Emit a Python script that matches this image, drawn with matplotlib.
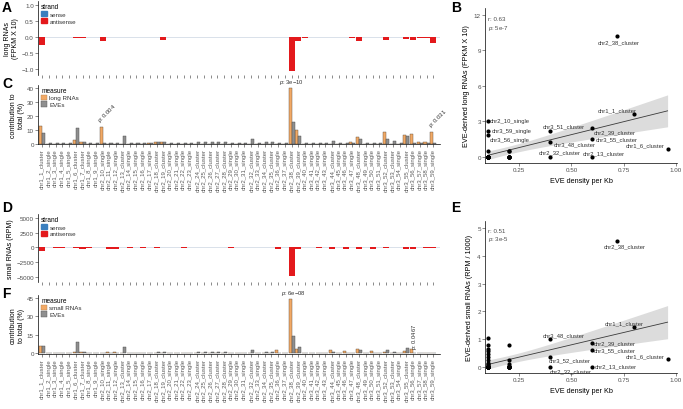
import numpy as np
import matplotlib.pyplot as plt
from matplotlib.patches import Patch

plt.rcParams["font.family"] = ["Liberation Sans", "DejaVu Sans"]
plt.rcParams["mathtext.fontset"] = "custom"
plt.rcParams["mathtext.rm"] = "Liberation Sans"
plt.rcParams["mathtext.it"] = "Liberation Sans:italic"

# ---- data -------------------------------------------------------------
categories = [
    "chr1_1_cluster", "chr1_2_single", "chr1_3_single", "chr1_4_single", "chr1_5_single",
    "chr1_6_cluster", "chr1_7_cluster", "chr1_8_single", "chr1_9_single", "chr2_10_single",
    "chr2_11_single", "chr2_12_single", "chr2_13_cluster", "chr2_14_single", "chr2_15_single",
    "chr2_16_single", "chr2_17_single", "chr2_18_cluster", "chr2_19_cluster", "chr2_20_single",
    "chr2_21_single", "chr2_22_single", "chr2_23_single", "chr2_24_cluster", "chr2_25_cluster",
    "chr2_26_cluster", "chr2_27_cluster", "chr2_28_cluster", "chr2_29_single", "chr2_30_single",
    "chr2_31_single", "chr2_32_cluster", "chr2_33_single", "chr2_34_cluster", "chr2_35_cluster",
    "chr2_36_single", "chr2_37_single", "chr2_38_cluster", "chr2_39_cluster", "chr2_40_single",
    "chr3_41_single", "chr3_42_single", "chr3_43_single", "chr3_44_cluster", "chr3_45_single",
    "chr3_46_single", "chr3_47_single", "chr3_48_cluster", "chr3_49_single", "chr3_50_single",
    "chr3_51_single", "chr3_52_cluster", "chr3_53_cluster", "chr3_54_single", "chr3_55_cluster",
    "chr3_56_single", "chr3_57_single", "chr3_58_single", "chr3_59_single",
]

# A: long RNAs (FPKM x 10) per strand
long_sense = [0.0] * len(categories)
long_antisense = [
    -0.25, 0, 0, 0, 0, -0.04, -0.03, 0, 0, -0.12,
    0, 0, 0, 0, 0, -0.01, 0, 0, -0.10, 0,
    -0.01, 0, 0, 0, 0, 0, 0, 0, 0, 0,
    0, 0, 0, 0, 0, 0, 0, -1.05, -0.13, -0.02,
    0, 0, -0.01, 0, 0, -0.015, -0.02, -0.12, 0, 0,
    0, -0.10, 0, 0, -0.06, -0.09, -0.04, -0.03, -0.19,
]

# D: small RNAs (RPM) per strand
small_sense = [0.0] * len(categories)
small_antisense = [
    -650, 0, -60, -60, 0, -150, -180, -100, 0, 0,
    -250, -250, 0, -100, 0, -80, 0, -80, 0, 0,
    0, -60, 0, 0, 0, 0, 0, 0, -50, 0,
    0, 0, 0, 0, 0, -220, 0, -4850, -230, 0,
    0, -50, 0, -250, 0, -200, 0, -250, 0, -200,
    0, -150, 0, 0, -200, -300, 0, -80, -80,
]

# C: contribution to total (%)
long_share = [
    13, 0, 0, 0, 0, 2.3, 1.5, 0, 0, 12,
    0, 0, 0, 0, 0, 0, 0.3, 1.2, 1.5, 0,
    0, 0, 0, 0, 0, 0, 0, 0, 0, 0,
    0, 0, 0, 0, 0, 0, 0, 40, 9.5, 0,
    0, 0, 0, 0, 0, 0, 1.0, 4.6, 0, 0,
    0, 8.7, 0, 0, 6.0, 7.3, 0.8, 1.0, 8.4,
]
eve_share_long = [
    7.7, 0.7, 0.7, 0.7, 0.7, 11.5, 1.5, 0.7, 0.7, 0.7,
    0.7, 0.7, 5.8, 0.7, 0.7, 0.7, 0.7, 1.5, 1.5, 0.7,
    0.7, 0.7, 0.7, 1.5, 1.5, 1.5, 1.5, 1.5, 0.7, 0.7,
    0.7, 3.6, 0.7, 1.5, 1.5, 0.7, 0.7, 16.0, 5.5, 0.7,
    0.7, 0.7, 0.7, 1.8, 0.7, 0.7, 0.7, 3.6, 0.7, 0.7,
    0.7, 3.6, 1.8, 0.7, 5.5, 0.7, 0.7, 0.7, 0.7,
]

# F: contribution to total (%)
small_share = [
    6.0, 0.3, 0.3, 0.3, 0.3, 1.2, 1.2, 0.5, 0.3, 0.4,
    1.5, 1.5, 0.3, 0.3, 0.3, 0.3, 0.3, 0.3, 0.3, 0.2,
    0.2, 0.2, 0.2, 0.2, 0.2, 0.2, 0.2, 0.2, 0.2, 0.2,
    0.2, 0.3, 0.2, 0.3, 0.3, 2.8, 0.2, 44.0, 3.5, 0.2,
    0.4, 0.4, 0.4, 2.8, 0.3, 2.2, 0.3, 3.2, 0.3, 2.0,
    0.3, 1.5, 0.3, 0.3, 2.0, 3.5, 0.3, 0.6, 0.5,
]
eve_share_small = [
    6.2, 0.6, 0.6, 0.6, 0.6, 9.0, 1.2, 0.6, 0.6, 0.6,
    0.6, 0.6, 4.9, 0.6, 0.6, 0.6, 0.6, 1.2, 1.2, 0.6,
    0.6, 0.6, 0.6, 1.2, 1.2, 1.2, 1.2, 1.2, 0.6, 0.6,
    0.6, 3.0, 0.6, 1.2, 1.2, 0.6, 0.6, 13.8, 4.9, 0.6,
    0.6, 0.6, 0.6, 1.5, 0.6, 0.6, 0.6, 3.0, 0.6, 0.6,
    0.6, 3.0, 1.5, 0.6, 4.7, 0.6, 0.6, 0.6, 0.6,
]

# B: EVE density vs long RNAs, labelled points first
b_names = ["chr2_38_cluster", "chr1_1_cluster", "chr1_6_cluster", "chr2_10_single",
           "chr3_59_single", "chr3_56_single", "chr3_51_cluster", "chr2_39_cluster",
           "chr3_55_cluster", "chr3_48_cluster", "chr2_32_cluster", "chr2_13_cluster"]
b_density = [0.72, 0.80, 0.96, 0.10, 0.10, 0.10, 0.40, 0.60, 0.60, 0.40, 0.40, 0.60,
             0.10, 0.10, 0.10, 0.10, 0.10, 0.10, 0.10, 0.10, 0.10, 0.10,
             0.10, 0.10, 0.10, 0.10, 0.10, 0.10, 0.10, 0.10, 0.10, 0.10,
             0.10, 0.10, 0.10, 0.10, 0.10, 0.10, 0.10, 0.10, 0.10, 0.10,
             0.10, 0.10, 0.10, 0.10, 0.10, 0.10, 0.10, 0.10, 0.10,
             0.20, 0.20, 0.20, 0.20, 0.20, 0.20, 0.20, 0.20]
b_long = [10.2, 3.6, 0.65, 3.05, 2.2, 1.8, 2.2, 2.4, 1.5, 1.25, 0.0, 0.0,
          0.45, 0, 0, 0, 0, 0, 0, 0, 0, 0,
          0, 0, 0, 0, 0, 0, 0, 0, 0, 0,
          0, 0, 0, 0, 0, 0, 0, 0, 0, 0,
          0, 0, 0, 0, 0, 0, 0, 0, 0,
          0.45, 0.45, 0, 0, 0, 0, 0, 0]

# E: EVE density vs small RNAs, labelled points first
e_names = ["chr2_38_cluster", "chr1_1_cluster", "chr1_6_cluster", "chr3_48_cluster",
           "chr2_39_cluster", "chr3_55_cluster", "chr3_52_cluster", "chr2_32_cluster",
           "chr2_13_cluster"]
e_density = [0.72, 0.80, 0.96, 0.40, 0.60, 0.60, 0.40, 0.40, 0.60,
             0.10, 0.10, 0.10, 0.10, 0.10, 0.10, 0.10, 0.10, 0.10, 0.10,
             0.10, 0.10, 0.10, 0.10, 0.10, 0.10, 0.10, 0.10, 0.10, 0.10,
             0.10, 0.10, 0.10, 0.10, 0.10, 0.10, 0.10, 0.10, 0.10, 0.10,
             0.10, 0.10, 0.10, 0.10, 0.10, 0.10, 0.10, 0.10, 0.10,
             0.20, 0.20, 0.20, 0.20, 0.20, 0.20, 0.20, 0.20, 0.20, 0.20, 0.20]
e_small = [4.55, 1.45, 0.27, 1.0, 0.85, 0.62, 0.35, 0.0, 0.0,
           1.05, 0.8, 0.65, 0.55, 0.45, 0.35, 0.25, 0.15, 0.1, 0.05,
           0.02, 0, 0, 0, 0, 0, 0, 0, 0, 0,
           0, 0, 0, 0, 0, 0, 0, 0, 0, 0,
           0, 0, 0, 0, 0, 0, 0, 0, 0,
           0.8, 0.25, 0.1, 0.02, 0, 0, 0, 0, 0, 0, 0]

# ---- style --------------------------------------------------------------
SENSE, ANTI = "#3A7FBF", "#E3191C"
ORANGE, GREY = "#F2A965", "#8F8F8F"
TXT = "#4D4D4D"
W, H = 683, 410

fig = plt.figure(figsize=(W / 100, H / 100), dpi=100)


def px_axes(l, t, r, b):
    return fig.add_axes([l / W, 1 - b / H, (r - l) / W, (b - t) / H])


def base_style(ax):
    for s in ("top", "right"):
        ax.spines[s].set_visible(False)
    for s in ("left", "bottom"):
        ax.spines[s].set_linewidth(0.5)
    ax.tick_params(length=2, width=0.4, color="#333333", labelsize=4.5,
                   labelcolor=TXT, pad=1)


x = np.arange(len(categories))


def make_legend(ax, handles, title):
    leg = ax.legend(handles=handles, title=title, loc="upper left", bbox_to_anchor=(0.008, 0.97),
                    frameon=False, fontsize=4.5, title_fontsize=4.7, handlelength=1.0,
                    handleheight=0.9, handletextpad=0.3, labelspacing=0.15,
                    borderpad=0, borderaxespad=0, alignment="left")
    for t in leg.get_texts():
        t.set_color("#333333")


def strand_panel(ax, sense, anti, ylim, yticks, yticklabels, ylabel):
    base_style(ax)
    ax.axhline(0, color="#D3DCE6", lw=0.6, zorder=0)
    ax.bar(x, sense, width=0.9, color=SENSE)
    ax.bar(x, anti, width=0.9, color=ANTI)
    ax.spines["bottom"].set_visible(False)
    ax.set_xlim(-0.6, len(categories))
    ax.set_ylim(*ylim)
    ax.set_yticks(yticks)
    ax.set_yticklabels(yticklabels)
    ax.set_xticks(x)
    ax.set_xticklabels([])
    ax.set_ylabel(ylabel, fontsize=5.0, labelpad=1.5)
    make_legend(ax, [Patch(color=SENSE, label="sense"), Patch(color=ANTI, label="antisense")],
                "strand")


def share_panel(ax, share, eve, label, ylim, yticks, ylabel):
    base_style(ax)
    ax.bar(x - 0.225, share, width=0.45, color=ORANGE, edgecolor="#5a4a3a", lw=0.3)
    ax.bar(x + 0.225, eve, width=0.45, color=GREY, edgecolor="#444444", lw=0.3)
    ax.set_xlim(-0.6, len(categories))
    ax.set_ylim(*ylim)
    ax.set_yticks(yticks)
    ax.set_xticks(x)
    ax.set_xticklabels(categories, rotation=90, fontsize=4.3, color="#5a5a5a")
    ax.set_ylabel(ylabel, fontsize=5.0, labelpad=1.5)
    make_legend(ax, [Patch(facecolor=ORANGE, edgecolor="#b08050", lw=0.3, label=label),
                     Patch(facecolor=GREY, edgecolor="#555555", lw=0.3, label="EVEs")],
                "measure")


def pval(ax, xv, yv, text, rot, dx, dy, ha):
    ax.annotate(text, xy=(xv, yv), xytext=(dx, dy), textcoords="offset pixels",
                rotation=rot, rotation_mode="anchor", ha=ha, va="bottom",
                fontsize=4.2, color="#333333", annotation_clip=False)


def scatter_panel(ax, xs, ys, names, offsets, ylim, yticks, ylabel, stats):
    base_style(ax)
    xs = np.asarray(xs, float)
    ys = np.asarray(ys, float)
    slope, icpt = np.polyfit(xs, ys, 1)
    n = len(xs)
    s = np.sqrt(np.sum((ys - (slope * xs + icpt)) ** 2) / (n - 2))
    grid = np.linspace(xs.min(), xs.max(), 100)
    se = s * np.sqrt(1 / n + (grid - xs.mean()) ** 2 / np.sum((xs - xs.mean()) ** 2))
    fit = slope * grid + icpt
    ax.fill_between(grid, fit - 2.0 * se, fit + 2.0 * se, color="#DCDCDC", lw=0, zorder=1)
    ax.plot(grid, fit, color="#3a3a3a", lw=0.6, zorder=2)
    ax.scatter(xs, ys, s=9, color="black", lw=0, zorder=3)
    for name, xv, yv in zip(names, xs, ys):
        dx, dy, ha = offsets[name]
        ax.annotate(name, xy=(xv, yv), xytext=(dx, dy), textcoords="offset pixels",
                    ha=ha, va="center", fontsize=4.2, color="#333333", zorder=4)
    ax.set_xlim(0.087, 1.005)
    ax.set_ylim(*ylim)
    ax.set_xticks([0.25, 0.5, 0.75, 1.0])
    ax.set_xticklabels(["0.25", "0.50", "0.75", "1.00"])
    ax.set_yticks(yticks)
    ax.set_xlabel("EVE density per Kb", fontsize=5.2, labelpad=3)
    ax.set_ylabel(ylabel, fontsize=5.2, labelpad=3)
    ax.text(0.015, stats[2], stats[0], transform=ax.transAxes, fontsize=4.4, color=TXT, va="center")
    ax.text(0.015, stats[3], stats[1], transform=ax.transAxes, fontsize=4.4, color=TXT, va="center")


# ---- A ----
axA = px_axes(38, 2, 440, 76)
strand_panel(axA, long_sense, long_antisense, (-1.19, 1.125), [-1, -0.5, 0, 0.5, 1],
             ["\u22121.0", "\u22120.5", "0.0", "0.5", "1.0"], "long RNAs\n(FPKM X 10)")

# ---- C ----
axC = px_axes(38, 86, 440, 145)
share_panel(axC, long_share, eve_share_long, "long RNAs", (-0.3, 42.5), [0, 10, 20, 30, 40],
            "contribution to\ntotal (%)")
pval(axC, 9 - 0.225, long_share[9], "$p$: 0.004", 45, 1, 3, "left")
pval(axC, 37, long_share[37], "$p$: 3e\u221210", 0, 0, 2, "center")
pval(axC, 58 - 0.225, long_share[58], "$p$: 0.031", 45, 1, 3, "left")

# ---- D ----
axD = px_axes(38, 215, 440, 283)
strand_panel(axD, small_sense, small_antisense, (-5850, 5680), [-5000, -2500, 0, 2500, 5000],
             ["\u22125000", "\u22122500", "0", "2500", "5000"], "small RNAs (RPM)")

# ---- F ----
axF = px_axes(38, 296, 440, 355)
share_panel(axF, small_share, eve_share_small, "small RNAs", (-0.5, 47.2), [0, 15, 30, 45],
            "contribution\nto total (%)")
pval(axF, 37.2, small_share[37], "$p$: 6e\u221208", 0, 0, 2, "center")
pval(axF, 55.1, small_share[55], "$p$: 0.0467", 90, 5, 0, "left")

# ---- B ----
b_off = {
    "chr2_38_cluster": (1, -6, "center"), "chr1_1_cluster": (-17, 4, "center"),
    "chr1_6_cluster": (-22, 4, "center"), "chr2_10_single": (2, 0, "left"),
    "chr3_59_single": (4, 0, "left"), "chr3_56_single": (2, -4, "left"),
    "chr3_51_cluster": (13, 4.5, "center"), "chr2_39_cluster": (1, -3.5, "left"),
    "chr3_55_cluster": (3, 0.5, "left"), "chr3_48_cluster": (3, -2, "left"),
    "chr2_32_cluster": (9, 4.5, "center"), "chr2_13_cluster": (12, 3.5, "center"),
}
axB = px_axes(485, 8.6, 677, 164.3)
scatter_panel(axB, b_density, b_long, b_names, b_off, (-0.56, 12.6), [0, 3, 6, 9, 12],
              "EVE-derived long RNAs (FPKM X 10)", ("r: 0.63", "$p$: 5e-7", 0.927, 0.869))

# ---- E ----
e_off = {
    "chr2_38_cluster": (7, -5, "center"), "chr1_1_cluster": (-10, 3.5, "center"),
    "chr1_6_cluster": (-22, 3.5, "center"), "chr3_48_cluster": (13, 4, "center"),
    "chr2_39_cluster": (1, 0, "left"), "chr3_55_cluster": (1, -0.5, "left"),
    "chr3_52_cluster": (19, -3, "center"), "chr2_32_cluster": (20, -4, "center"),
    "chr2_13_cluster": (2, 1, "left"),
}
axE = px_axes(485, 222.4, 677, 374.3)
scatter_panel(axE, e_density, e_small, e_names, e_off, (-0.24, 5.25), [0, 1, 2, 3, 4, 5],
              "EVE-derived small RNAs (RPM / 1000)", ("r: 0.51", "$p$: 3e-5", 0.939, 0.889))

# panel letters
for letter, px, py in [("A", 2, 8), ("B", 451, 8), ("C", 2, 84), ("D", 2, 208),
                       ("E", 451, 208), ("F", 2, 294)]:
    fig.text(px / W, 1 - py / H, letter, fontsize=10, fontweight="bold", va="center", ha="left")

fig.savefig("out.png", dpi=100)
